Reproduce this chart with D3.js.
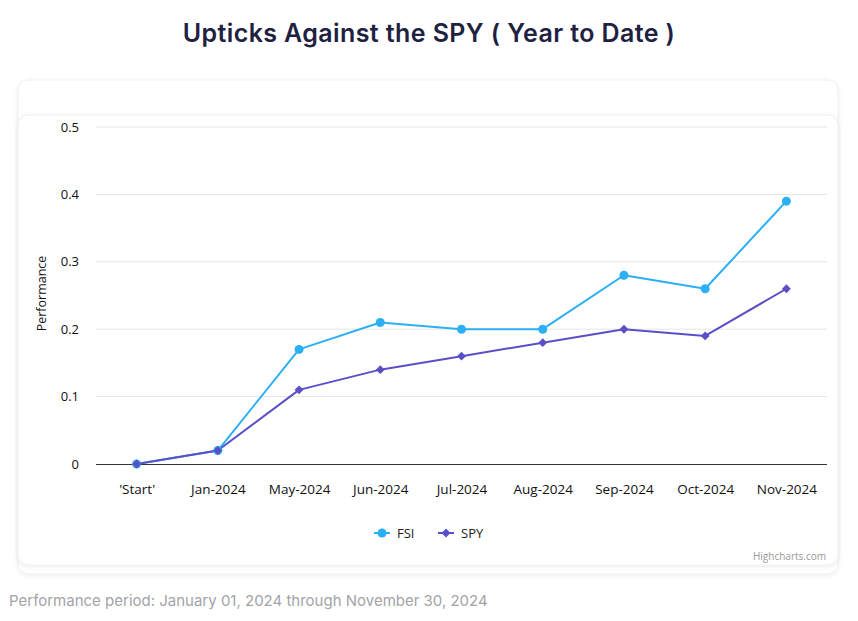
<!DOCTYPE html>
<html><head><meta charset="utf-8">
<script src="https://cdn.jsdelivr.net/npm/d3@7"></script>
<style>
html,body{margin:0;padding:0;background:#fff;width:858px;height:621px;overflow:hidden}
</style></head>
<body><svg id="c" width="858" height="621"></svg>
<script>
const categories = ["'Start'","Jan-2024","May-2024","Jun-2024","Jul-2024","Aug-2024","Sep-2024","Oct-2024","Nov-2024"];
const fsiValues = [0, 0.02, 0.17, 0.21, 0.20, 0.20, 0.28, 0.26, 0.39];
const spyValues = [0, 0.02, 0.11, 0.14, 0.16, 0.18, 0.20, 0.19, 0.26];
const yTicks = [0, 0.1, 0.2, 0.3, 0.4, 0.5];
const seriesNames = ["FSI","SPY"];
const seriesColors = ["#2bb0f5","#5a4fc6"];

const svg = d3.select("#c");
const defs = svg.append("defs");
const f = defs.append("filter").attr("id","sh").attr("x","-5%").attr("y","-5%").attr("width","110%").attr("height","115%");
f.append("feDropShadow").attr("dx",0).attr("dy",1).attr("stdDeviation",2).attr("flood-color","#000").attr("flood-opacity",0.08);

// title
svg.append("text").attr("x",429).attr("y",42).attr("text-anchor","middle")
  .attr("font-family","Inter, 'Noto Sans', sans-serif").attr("font-weight",600).attr("font-size",25)
  .attr("letter-spacing",0.4)
  .attr("fill","#1e2240").text("Upticks Against the SPY ( Year to Date )");

// cards
svg.append("rect").attr("x",18).attr("y",80).attr("width",820).attr("height",494).attr("rx",10)
  .attr("fill","#fff").attr("stroke","#f0f0f0").attr("filter","url(#sh)");
svg.append("rect").attr("x",18).attr("y",115).attr("width",820).attr("height",450).attr("rx",10)
  .attr("fill","#fff").attr("stroke","#f0f0f0").attr("filter","url(#sh)");

const L = 96, R = 827, T = 127, B = 464;
const x = d3.scalePoint().domain(categories).range([L, R]).padding(0.5);
const y = d3.scaleLinear().domain([0, 0.5]).range([B, T]);

const g = svg.append("g");
// gridlines
g.selectAll("line.grid").data(yTicks.filter(d=>d>0)).enter().append("line")
  .attr("x1",L).attr("x2",R).attr("y1",d=>y(d)).attr("y2",d=>y(d))
  .attr("stroke","#e6e6e6").attr("stroke-width",1);

const font = "'Open Sans', 'Noto Sans', sans-serif";
// y axis labels
const yAxis = d3.axisLeft(y).tickValues(yTicks).tickSize(0).tickPadding(17).tickFormat(d=>d===0?"0":d3.format(".1f")(d));
const ya = g.append("g").attr("transform",`translate(${L},0)`).call(yAxis);
ya.select(".domain").remove();
ya.selectAll("text").attr("font-family",font).attr("font-size",13).attr("fill","#111");

// x axis
const xAxis = d3.axisBottom(x).tickSize(0).tickPadding(20);
const xa = g.append("g").attr("transform",`translate(0,${B})`).call(xAxis);
xa.select(".domain").attr("d",`M${L},0.5H${R}`).attr("stroke","#333").attr("stroke-width",1);
xa.selectAll("text").attr("font-family",font).attr("font-size",13.5).attr("fill","#111");

// y title
svg.append("text").attr("transform",`translate(46,${(T+B)/2-2}) rotate(-90)`).attr("text-anchor","middle")
  .attr("font-family",font).attr("font-size",12.5).attr("fill","#111").text("Performance");

const line = d3.line().x((d,i)=>x(categories[i])).y(d=>y(d));
const allSeries = [fsiValues, spyValues];
[0,1].forEach(si=>{
  const vals = allSeries[si];
  g.append("path").datum(vals).attr("d",line).attr("fill","none")
    .attr("stroke",seriesColors[si]).attr("stroke-width",2).attr("stroke-linejoin","round");
});
[0,1].forEach(si=>{
  const vals = allSeries[si];
  if (si===0) {
    g.selectAll("circle.s0").data(vals).enter().append("circle")
      .attr("cx",(d,i)=>x(categories[i])).attr("cy",d=>y(d)).attr("r",4.5).attr("fill",seriesColors[0]);
  } else {
    const sym = d3.symbol().type(d3.symbolDiamond2).size(50);
    g.selectAll("path.s1").data(vals).enter().append("path")
      .attr("d",sym).attr("transform",(d,i)=>`translate(${x(categories[i])},${y(d)})`).attr("fill",seriesColors[1]);
  }
});

// legend
const leg = svg.append("g");
const legX = [374, 438];
seriesNames.forEach((n,i)=>{
  const lx = legX[i], ly = 533;
  leg.append("line").attr("x1",lx).attr("x2",lx+16).attr("y1",ly).attr("y2",ly).attr("stroke",seriesColors[i]).attr("stroke-width",2);
  if(i===0) leg.append("circle").attr("cx",lx+8).attr("cy",ly).attr("r",4.5).attr("fill",seriesColors[i]);
  else leg.append("path").attr("d",d3.symbol().type(d3.symbolDiamond2).size(50)).attr("transform",`translate(${lx+8},${ly})`).attr("fill",seriesColors[i]);
  leg.append("text").attr("x",lx+23).attr("y",ly+5).attr("font-family",font).attr("font-size",13).attr("fill","#222").text(n);
});

// credits
svg.append("text").attr("x",826).attr("y",560).attr("text-anchor","end").attr("font-family",font)
  .attr("font-size",10).attr("fill","#999").text("Highcharts.com");

// footer
svg.append("text").attr("x",9).attr("y",606).attr("font-family","Inter, 'Noto Sans', sans-serif")
  .attr("font-size",15).attr("fill","#a3a3a8").text("Performance period: January 01, 2024 through November 30, 2024");
</script></body></html>
